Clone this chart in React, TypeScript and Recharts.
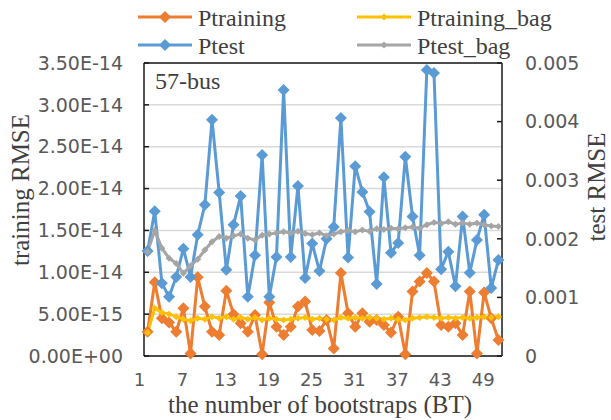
import { LineChart, Line, XAxis, YAxis, CartesianGrid, ReferenceLine } from "recharts";

// bootstrap count on the x axis
const bootstraps = Array.from({ length: 50 }, (_, i) => i + 1);
const xTicks = [1, 7, 13, 19, 25, 31, 37, 43, 49];

// training RMSE, in units of 1e-15
const ptraining = [
  2.9, 8.8, 4.5, 4.0, 2.9, 5.7, 0.3, 9.4, 5.9, 2.9,
  2.5, 7.8, 5.0, 3.9, 2.9, 4.9, 0.2, 6.4, 3.5, 2.5,
  3.5, 5.9, 6.5, 3.1, 3.0, 4.3, 0.9, 9.9, 5.1, 3.5,
  5.1, 4.1, 4.3, 3.7, 2.8, 4.7, 0.2, 7.7, 8.9, 9.9,
  8.9, 3.7, 3.5, 3.9, 2.5, 7.7, 0.3, 7.6, 4.5, 1.9,
];
const ptrainingBag = [
  2.8, 5.7, 5.2, 5.0, 4.7, 4.4, 4.2, 4.5, 4.4, 4.7,
  4.5, 4.7, 4.4, 4.6, 4.4, 4.6, 4.3, 4.5, 4.4, 4.3,
  4.4, 4.5, 4.6, 4.4, 4.5, 4.4, 4.3, 4.6, 4.5, 4.6,
  4.5, 4.6, 4.5, 4.4, 4.5, 4.4, 4.3, 4.5, 4.6, 4.7,
  4.6, 4.5, 4.6, 4.5, 4.6, 4.5, 4.6, 4.7, 4.6, 4.7,
];

// test RMSE, in units of 1e-3
const ptest = [
  1.79, 2.47, 1.24, 1.01, 1.35, 1.83, 1.35, 2.07, 2.58, 4.03,
  2.79, 1.47, 2.24, 2.73, 1.01, 1.72, 3.43, 1.01, 1.69, 4.54,
  1.69, 2.90, 1.33, 1.92, 1.45, 2.0, 2.2, 4.06, 1.68, 3.24,
  2.80, 2.46, 1.23, 3.05, 1.76, 1.93, 3.40, 2.38, 1.72, 4.88,
  4.83, 1.48, 1.78, 1.19, 2.38, 1.42, 1.98, 2.41, 1.16, 1.64,
];
const ptestBag = [
  1.78, 2.14, 1.84, 1.67, 1.58, 1.41, 1.54, 1.65, 1.81, 1.95,
  2.04, 2.01, 2.05, 2.08, 2.01, 1.98, 2.06, 2.08, 2.10, 2.12,
  2.10, 2.13, 2.09, 2.07, 2.10, 2.05, 2.08, 2.12, 2.14, 2.12,
  2.15, 2.13, 2.17, 2.16, 2.18, 2.17, 2.19, 2.20, 2.18, 2.24,
  2.28, 2.26, 2.29, 2.25, 2.27, 2.25, 2.27, 2.24, 2.22, 2.21,
];

const leftTicks = [0, 5e-15, 1e-14, 1.5e-14, 2e-14, 2.5e-14, 3e-14, 3.5e-14];
const rightTicks = [0, 0.001, 0.002, 0.003, 0.004, 0.005];

const data = bootstraps.map((bt, i) => ({
  bt,
  ptraining: ptraining[i] * 1e-15,
  ptrainingBag: ptrainingBag[i] * 1e-15,
  ptest: ptest[i] * 1e-3,
  ptestBag: ptestBag[i] * 1e-3,
}));

const ORANGE = "#ED7D31";
const YELLOW = "#FFC000";
const BLUE = "#5B9BD5";
const GRAY = "#A5A5A5";
const AXIS = "#1a1a1a";
const LABEL = "#595959";
const TITLE = "#404040";
const SERIF = "Liberation Serif";
const SANS = "DejaVu Sans";

// Excel style scientific labels: 3.50E-14, 0.00E+00
const sci = (v: number) => {
  if (v === 0) return "0.00E+00";
  const [m, e] = v.toExponential(2).split("e");
  const n = parseInt(e, 10);
  return `${m}E${n < 0 ? "-" : "+"}${String(Math.abs(n)).padStart(2, "0")}`;
};

const diamond = (r: number, color: string) => (props: any) => {
  const { cx, cy, index } = props;
  if (cx == null || cy == null) return <g key={index} />;
  return (
    <path
      key={index}
      d={`M${cx},${cy - r}L${cx + r},${cy}L${cx},${cy + r}L${cx - r},${cy}Z`}
      fill={color}
    />
  );
};

const XTick = (props: any) => {
  const { x, y, payload } = props;
  return (
    <text x={x - 8} y={y} dy={30} textAnchor="middle" fill={LABEL} fontSize={18} fontFamily={SANS}>
      {payload.value}
    </text>
  );
};

const legend = [
  { name: "Ptraining", color: ORANGE, r: 6, x: 138, y: 17 },
  { name: "Ptraining_bag", color: YELLOW, r: 3.5, x: 357, y: 17 },
  { name: "Ptest", color: BLUE, r: 6, x: 138, y: 45 },
  { name: "Ptest_bag", color: GRAY, r: 3.5, x: 357, y: 45 },
];

export default function App() {
  return (
    <div style={{ position: "absolute", left: 0, top: 0, width: 611, height: 420, background: "#fff" }}>
      <LineChart width={611} height={420} data={data} margin={{ top: 63, right: 0, bottom: 0, left: 0 }}>
        <CartesianGrid yAxisId="left" vertical={false} stroke="#d9d9d9" strokeWidth={1.5} />
        <XAxis
          xAxisId="marks"
          dataKey="bt"
          type="number"
          domain={[0.5, 50.5]}
          ticks={xTicks.slice(1).map((t) => t - 0.5)}
          interval={0}
          height={0}
          tick={false}
          axisLine={false}
          tickLine={{ stroke: AXIS, strokeWidth: 1.5 }}
          tickSize={-5}
        />
        <XAxis
          dataKey="bt"
          type="number"
          domain={[0.5, 50.5]}
          ticks={xTicks}
          interval={0}
          height={64}
          tick={<XTick />}
          tickLine={false}
          tickSize={0}
          tickMargin={0}
          axisLine={{ stroke: AXIS, strokeWidth: 1.5 }}
        />
        <YAxis
          yAxisId="left"
          width={144}
          domain={[0, 3.5e-14]}
          ticks={leftTicks}
          interval={0}
          tickFormatter={sci}
          tick={{ fill: LABEL, fontSize: 19, fontFamily: SANS }}
          tickSize={-5}
          tickMargin={26}
          tickLine={{ stroke: AXIS, strokeWidth: 1.5 }}
          axisLine={{ stroke: AXIS, strokeWidth: 1.5 }}
        />
        <YAxis
          yAxisId="right"
          orientation="right"
          width={109}
          domain={[0, 0.005]}
          ticks={rightTicks}
          interval={0}
          tickFormatter={(v: number) => (v === 0 ? "0" : v.toFixed(3))}
          tick={{ fill: LABEL, fontSize: 19, fontFamily: SANS }}
          tickSize={-5}
          tickMargin={28}
          tickLine={{ stroke: AXIS, strokeWidth: 1.5 }}
          axisLine={{ stroke: AXIS, strokeWidth: 1.5 }}
        />
        <ReferenceLine yAxisId="left" y={3.5e-14} stroke={AXIS} strokeWidth={1.5} />
        <Line
          yAxisId="left"
          dataKey="ptraining"
          stroke={ORANGE}
          strokeWidth={3}
          dot={diamond(6, ORANGE)}
          activeDot={false}
          isAnimationActive={false}
        />
        <Line
          yAxisId="left"
          dataKey="ptrainingBag"
          stroke={YELLOW}
          strokeWidth={3}
          dot={diamond(3.5, YELLOW)}
          activeDot={false}
          isAnimationActive={false}
        />
        <Line
          yAxisId="right"
          dataKey="ptest"
          stroke={BLUE}
          strokeWidth={3}
          dot={diamond(6, BLUE)}
          activeDot={false}
          isAnimationActive={false}
        />
        <Line
          yAxisId="right"
          dataKey="ptestBag"
          stroke={GRAY}
          strokeWidth={3}
          dot={diamond(3.5, GRAY)}
          activeDot={false}
          isAnimationActive={false}
        />
      </LineChart>
      <svg
        width={611}
        height={420}
        style={{ position: "absolute", left: 0, top: 0, pointerEvents: "none" }}
      >
        {legend.map((item) => (
          <g key={item.name}>
            <line x1={item.x} x2={item.x + 54} y1={item.y} y2={item.y} stroke={item.color} strokeWidth={3} />
            {diamond(item.r, item.color)({ cx: item.x + 27, cy: item.y, index: item.name })}
            <text x={item.x + 60} y={item.y + 9} fill={TITLE} fontSize={24} fontFamily={SERIF}>
              {item.name}
            </text>
          </g>
        ))}
        <text x={155} y={89} fill={TITLE} fontSize={24} fontFamily={SERIF}>
          57-bus
        </text>
        <text transform="translate(29,190) rotate(-90)" textAnchor="middle" fill={TITLE} fontSize={25} fontFamily={SERIF}>
          training RMSE
        </text>
        <text transform="translate(605,187) rotate(-90)" textAnchor="middle" fill={TITLE} fontSize={25} fontFamily={SERIF}>
          test RMSE
        </text>
        <text x={320} y={413} textAnchor="middle" fill={TITLE} fontSize={25} fontFamily={SERIF}>
          the number of bootstraps (BT)
        </text>
      </svg>
    </div>
  );
}
